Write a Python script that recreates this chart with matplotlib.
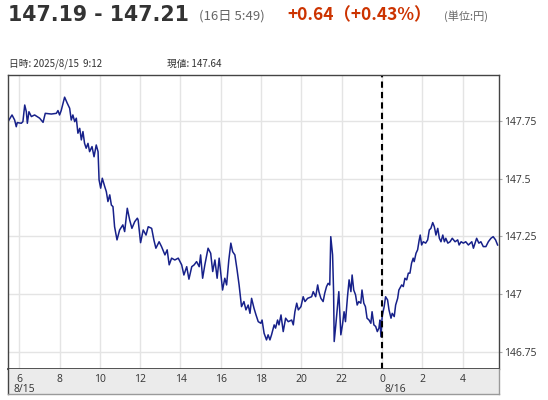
import matplotlib
matplotlib.use("Agg")
import matplotlib.pyplot as plt
import numpy as np

# ---- data: hours since 2025/8/15 00:00 and USD/JPY price ----
hours = [5.44, 5.64, 5.77, 5.85, 5.90, 6.10, 6.18, 6.27, 6.35, 6.40, 6.48, 6.60, 6.76, 7.01, 7.18, 7.29,
         7.59, 7.84, 7.92, 8.00, 8.08, 8.25, 8.38, 8.50, 8.58, 8.66, 8.75, 8.83, 8.91, 9.00, 9.08, 9.16,
         9.24, 9.32, 9.41, 9.49, 9.61, 9.71, 9.82, 9.91, 9.96, 10.04, 10.12, 10.24, 10.32, 10.40, 10.49,
         10.57, 10.65, 10.73, 10.85, 10.98, 11.14, 11.23, 11.36, 11.48, 11.59, 11.73, 11.86, 11.90,
         12.02, 12.15, 12.29, 12.40, 12.57, 12.68, 12.78, 12.94, 13.06, 13.23, 13.34, 13.44, 13.56,
         13.72, 13.89, 14.06, 14.17, 14.31, 14.42, 14.56, 14.68, 14.80, 14.93, 15.00, 15.10, 15.21,
         15.37, 15.50, 15.60, 15.71, 15.82, 15.92, 16.09, 16.20, 16.29, 16.40, 16.50, 16.59, 16.70,
         16.81, 16.91, 17.03, 17.15, 17.25, 17.36, 17.45, 17.53, 17.65, 17.75, 17.86, 17.99, 18.05,
         18.15, 18.27, 18.35, 18.44, 18.52, 18.65, 18.72, 18.82, 18.89, 18.99, 19.10, 19.22, 19.35,
         19.52, 19.60, 19.68, 19.77, 19.85, 19.98, 20.09, 20.18, 20.31, 20.51, 20.59, 20.71, 20.81,
         20.87, 20.97, 21.08, 21.16, 21.25, 21.33, 21.41, 21.46, 21.55, 21.60, 21.63, 21.71, 21.79,
         21.86, 21.96, 22.04, 22.12, 22.19, 22.29, 22.37, 22.46, 22.52, 22.60, 22.69, 22.77, 22.85,
         22.95, 23.01, 23.10, 23.18, 23.26, 23.36, 23.45, 23.51, 23.60, 23.69, 23.77, 23.85, 23.90,
         23.95, 24.01, 24.11, 24.18, 24.28, 24.35, 24.45, 24.51, 24.61, 24.68, 24.78, 24.84, 24.98,
         25.06, 25.14, 25.23, 25.31, 25.39, 25.47, 25.55, 25.60, 25.69, 25.77, 25.85, 25.90, 25.97,
         26.05, 26.17, 26.27, 26.35, 26.43, 26.52, 26.60, 26.68, 26.77, 26.85, 26.93, 27.02, 27.10,
         27.17, 27.27, 27.38, 27.49, 27.63, 27.76, 27.83, 27.93, 28.04, 28.16, 28.29, 28.46, 28.54,
         28.62, 28.70, 28.81, 28.91, 29.03, 29.16, 29.28, 29.41, 29.52, 29.64, 29.74]
prices = [147.747, 147.776, 147.754, 147.725, 147.743, 147.740, 147.747, 147.819, 147.790, 147.740,
          147.790, 147.769, 147.776, 147.762, 147.744, 147.783, 147.780, 147.783, 147.795, 147.776,
          147.795, 147.853, 147.827, 147.805, 147.754, 147.776, 147.747, 147.762, 147.697, 147.718,
          147.668, 147.704, 147.653, 147.632, 147.653, 147.617, 147.639, 147.595, 147.646, 147.617,
          147.495, 147.459, 147.502, 147.466, 147.444, 147.401, 147.430, 147.386, 147.379, 147.292,
          147.235, 147.278, 147.300, 147.271, 147.372, 147.321, 147.285, 147.314, 147.329, 147.321,
          147.223, 147.278, 147.256, 147.292, 147.285, 147.235, 147.199, 147.227, 147.206, 147.170,
          147.192, 147.127, 147.156, 147.148, 147.156, 147.127, 147.083, 147.119, 147.065, 147.119,
          147.127, 147.141, 147.119, 147.170, 147.069, 147.127, 147.199, 147.177, 147.098, 147.148,
          147.069, 147.156, 147.018, 147.069, 147.040, 147.148, 147.221, 147.184, 147.170, 147.105,
          147.040, 146.946, 146.968, 146.932, 146.953, 146.917, 146.982, 146.939, 146.910, 146.881,
          146.874, 146.888, 146.831, 146.802, 146.824, 146.802, 146.824, 146.867, 146.853, 146.888,
          146.867, 146.910, 146.838, 146.896, 146.881, 146.888, 146.867, 146.924, 146.961, 146.932,
          146.946, 146.989, 146.968, 146.982, 146.989, 147.011, 146.989, 147.040, 147.011, 146.982,
          146.968, 147.004, 147.033, 147.047, 147.040, 147.249, 147.170, 147.011, 146.795, 146.867,
          146.946, 147.011, 146.824, 146.867, 146.924, 146.881, 146.989, 147.062, 147.011, 147.083,
          147.018, 146.997, 146.953, 146.968, 146.961, 147.018, 146.961, 146.946, 146.896, 146.888,
          146.874, 146.924, 146.867, 146.860, 146.838, 146.853, 146.888, 146.816, 146.903, 146.946,
          146.989, 146.975, 146.932, 146.896, 146.917, 146.903, 146.953, 146.982, 147.018, 147.040,
          147.033, 147.069, 147.062, 147.091, 147.091, 147.134, 147.156, 147.141, 147.177, 147.192,
          147.235, 147.256, 147.213, 147.227, 147.221, 147.235, 147.278, 147.285, 147.310, 147.292,
          147.256, 147.285, 147.242, 147.227, 147.256, 147.227, 147.242, 147.221, 147.227, 147.242,
          147.227, 147.235, 147.213, 147.227, 147.221, 147.227, 147.213, 147.227, 147.199, 147.221,
          147.242, 147.221, 147.227, 147.206, 147.206, 147.227, 147.242, 147.249, 147.235, 147.213]

x_ticks = [6, 8, 10, 12, 14, 16, 18, 20, 22, 24, 26, 28]
x_tick_labels = ["6", "8", "10", "12", "14", "16", "18", "20", "22", "0", "2", "4"]
date_labels = {6: "8/15", 24: "8/16"}
y_ticks = [146.75, 147.0, 147.25, 147.5, 147.75]
y_tick_labels = ["146.75", "147", "147.25", "147.5", "147.75"]

title_main = "147.19 - 147.21"
title_time = "(16日 5:49)"
title_change = "+0.64（+0.43%）"
title_unit = "(単位:円)"
info_time = "日時: 2025/8/15  9:12"
info_value = "現値: 147.64"

W, H = 548, 400
fig = plt.figure(figsize=(W / 100, H / 100), dpi=100)
fig.patch.set_facecolor("white")
CJK = ["Noto Sans CJK JP", "DejaVu Sans"]


def fx(px):
    return px / W


def fy(py):
    return 1 - py / H


L, R, T, B, BB = 8, 498.6, 75, 369, 394
ax = fig.add_axes([fx(L), fy(B), fx(R - L), (B - T) / H])
axb = fig.add_axes([fx(L), fy(BB), fx(R - L), (BB - B) / H])

ax.set_xlim(5.44, 29.79)
ax.set_ylim(146.676, 147.949)
ax.set_xticks(x_ticks)
ax.set_yticks(y_ticks)
ax.grid(True, color="#e4e4e4", linewidth=1.0)
ax.set_axisbelow(True)
ax.tick_params(axis="x", length=0, labelbottom=False)
ax.yaxis.tick_right()
ax.set_yticklabels(y_tick_labels)
ax.tick_params(axis="y", length=2, color="#aaaaaa", labelsize=7.5, labelcolor="#333333", pad=2)
for lab in ax.get_yticklabels():
    lab.set_family(["Open Sans", "DejaVu Sans"])
for s in ax.spines.values():
    s.set_color("#444444")
    s.set_linewidth(1.0)
ax.spines["bottom"].set_linewidth(1.3)

ax.plot(hours, prices, color="#17218a", linewidth=1.1)
ax.axvline(24, color="black", linestyle=(0, (3, 2)), linewidth=1.5)

# bottom band with tick labels
axb.set_facecolor("#ebebeb")
axb.set_xlim(ax.get_xlim())
axb.set_ylim(0, 1)
axb.set_xticks([])
axb.set_yticks([])
for k, s in axb.spines.items():
    s.set_color("#9a9a9a")
    s.set_linewidth(1.0)
axb.spines["left"].set_color("#444444")
axb.spines["top"].set_visible(False)
for t, lab in zip(x_ticks, x_tick_labels):
    axb.text(t, 0.6, lab, ha="center", va="center", fontsize=7.5, color="#333333",
             family=["Open Sans", "DejaVu Sans"])
for t, lab in date_labels.items():
    off = -0.28 if t == 6 else 0.15
    axb.text(t + off, 0.2, lab, ha="left", va="center", fontsize=7.5, color="#333333",
             family=["Open Sans", "DejaVu Sans"])

# header
fig.text(fx(8), fy(15), title_main, fontsize=14.8, fontweight="bold", color="#333333",
         va="center", ha="left", family="DejaVu Sans")
fig.text(fx(199), fy(16), title_time, fontsize=9.5, color="#666666", va="center", ha="left", family=CJK)
fig.text(fx(287), fy(15), title_change, fontsize=12.5, fontweight="bold", color="#cc3300",
         va="center", ha="left", family=CJK)
fig.text(fx(444), fy(16), title_unit, fontsize=8, color="#666666", va="center", ha="left", family=CJK)
fig.text(fx(9), fy(64), info_time, fontsize=7, color="#333333", va="center", ha="left", family=CJK)
fig.text(fx(167), fy(64), info_value, fontsize=7, color="#333333", va="center", ha="left", family=CJK)

fig.savefig("out.png", dpi=100, facecolor="white")
